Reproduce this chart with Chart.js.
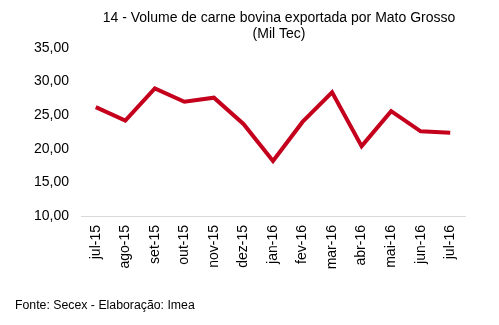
<!DOCTYPE html>
<html>
<head>
<meta charset="utf-8">
<script src="https://cdn.jsdelivr.net/npm/chart.js@4/dist/chart.umd.min.js"></script>
<style>
html,body{margin:0;padding:0;background:#fff;}
#wrap{width:499px;height:325px;position:relative;}
</style>
</head>
<body>
<div id="wrap"><canvas id="c" width="499" height="325"></canvas></div>
<script>
const categories = ['jul-15','ago-15','set-15','out-15','nov-15','dez-15','jan-16','fev-16','mar-16','abr-16','mai-16','jun-16','jul-16'];
const values = [26.2, 24.2, 29.0, 27.0, 27.6, 23.7, 18.2, 24.0, 28.4, 20.4, 25.6, 22.6, 22.4];
const titleLines = ['14 - Volume de carne bovina exportada por Mato Grosso', '(Mil Tec)'];
const footerText = 'Fonte: Secex - Elaboração: Imea';
const yMin = 10, yMax = 35, yStep = 5;

const FONT = 'Liberation Sans, Arial, Helvetica, sans-serif';

const textPlugin = {
  id: 'texts',
  afterDraw(chart) {
    const ctx = chart.ctx;
    ctx.save();
    ctx.fillStyle = '#000';
    ctx.font = '14px ' + FONT;
    ctx.textAlign = 'center';
    ctx.textBaseline = 'middle';
    ctx.fillText(titleLines[0], 279, 18);
    ctx.fillText(titleLines[1], 279, 34);
    ctx.font = '12.3px ' + FONT;
    ctx.textAlign = 'left';
    ctx.fillText(footerText, 15, 306);
    ctx.restore();
  }
};

new Chart(document.getElementById('c'), {
  type: 'line',
  data: {
    labels: categories,
    datasets: [{
      data: values,
      borderColor: '#C4001C',
      borderWidth: 4,
      pointRadius: 0,
      tension: 0,
      fill: false
    }]
  },
  options: {
    responsive: false,
    animation: false,
    devicePixelRatio: 1,
    layout: { padding: { top: 48, right: 34, bottom: 49, left: 0 } },
    plugins: { legend: { display: false }, title: { display: false }, tooltip: { enabled: false } },
    scales: {
      x: {
        offset: true,
        grid: { display: false, drawTicks: false },
        border: { display: true, color: '#d9d9d9', width: 1 },
        ticks: {
          color: '#000', font: { family: FONT, size: 14 },
          minRotation: 90, maxRotation: 90, padding: 9, autoSkip: false
        },
        afterFit(s) { s.height = 60; }
      },
      y: {
        min: yMin, max: yMax,
        grid: { display: false, drawTicks: false },
        border: { display: false },
        ticks: {
          stepSize: yStep, color: '#000', font: { family: FONT, size: 14 }, padding: 12,
          callback: v => v.toFixed(2).replace('.', ',')
        },
        afterFit(s) { s.width = 81; }
      }
    }
  },
  plugins: [textPlugin]
});
</script>
</body>
</html>
